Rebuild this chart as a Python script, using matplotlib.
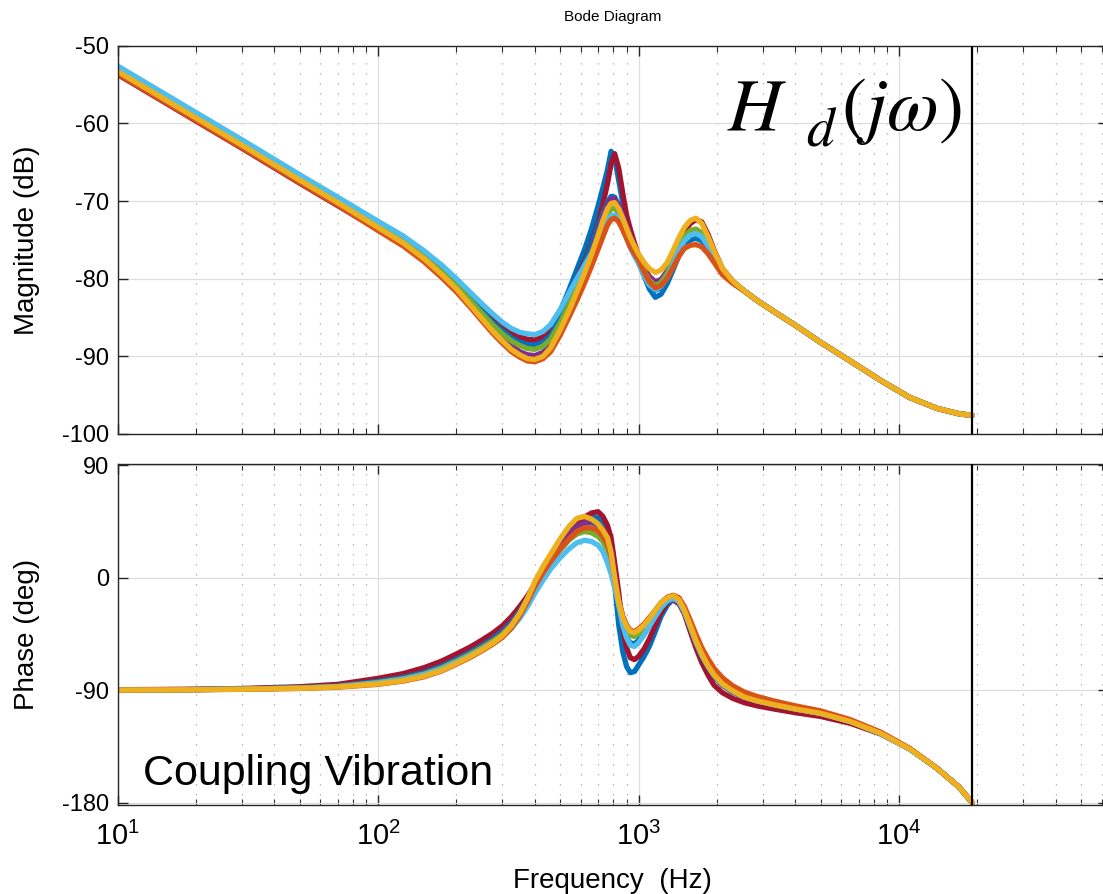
import math
import matplotlib
matplotlib.use("Agg")
import matplotlib.pyplot as plt
from matplotlib.ticker import LogLocator, NullLocator, FixedLocator, FuncFormatter

plt.rcParams['font.family'] = ['Liberation Sans', 'DejaVu Sans']
plt.rcParams['axes.unicode_minus'] = False

# ---------------- data ----------------
freq_hz = [10, 20, 30, 50, 70, 100, 125, 150, 175, 200,
           225, 250, 275, 300, 325, 350, 375, 400, 430, 460,
           500, 540, 580, 620, 660, 700, 730, 760, 785, 810,
           840, 870, 900, 930, 965, 1000, 1050, 1100, 1160, 1220,
           1290, 1360, 1430, 1500, 1580, 1660, 1750, 1850, 1950, 2100,
           2300, 2550, 2850, 3300, 4000, 5000, 6500, 8500, 11000, 14000,
           17000, 19100]

mag_blue = [-52.9, -58.9, -62.4, -66.9, -69.8, -73.0, -74.9, -76.9, -78.7, -80.5,
            -82.3, -83.9, -85.3, -86.4, -87.3, -87.9, -88.3, -88.4, -87.9, -86.6,
            -84.2, -81.5, -78.8, -76.3, -73.6, -70.6, -68.3, -66.0, -63.6, -64.4,
            -67.4, -70.2, -72.6, -74.2, -75.9, -77.4, -79.6, -81.3, -82.4, -82.0,
            -80.6, -78.8, -77.0, -75.7, -75.0, -74.8, -75.1, -76.2, -77.6, -79.3,
            -80.5, -81.6, -82.8, -84.2, -86.0, -88.2, -90.6, -93.1, -95.3, -96.7,
            -97.4, -97.6]
mag_darkred = [-53.7, -59.7, -63.2, -67.7, -70.6, -73.7, -75.6, -77.5, -79.3, -81.0,
               -82.6, -84.0, -85.3, -86.3, -87.0, -87.5, -87.8, -87.9, -87.5, -86.6,
               -84.5, -82.3, -80.0, -77.8, -75.4, -72.8, -70.4, -67.8, -65.2, -63.9,
               -65.8, -69.0, -71.8, -73.6, -75.4, -77.0, -78.8, -80.0, -80.7, -80.4,
               -79.3, -77.5, -75.6, -74.0, -72.9, -72.4, -72.7, -74.3, -76.3, -78.7,
               -80.3, -81.6, -82.8, -84.2, -86.0, -88.2, -90.6, -93.1, -95.3, -96.7,
               -97.4, -97.6]
mag_blue2 = [-53.0, -59.0, -62.5, -67.0, -69.9, -73.1, -75.1, -77.0, -78.9, -80.7,
             -82.5, -84.1, -85.6, -86.7, -87.6, -88.2, -88.5, -88.6, -88.2, -87.3,
             -85.2, -82.9, -80.5, -78.1, -75.7, -73.2, -71.6, -70.2, -69.4, -69.5,
             -70.6, -72.1, -73.5, -74.9, -76.4, -77.9, -79.6, -80.9, -81.5, -81.1,
             -79.9, -78.3, -76.6, -75.4, -74.7, -74.5, -74.9, -76.0, -77.5, -79.2,
             -80.5, -81.6, -82.8, -84.2, -86.0, -88.2, -90.6, -93.1, -95.3, -96.7,
             -97.4, -97.6]
mag_purple = [-53.2, -59.2, -62.7, -67.2, -70.1, -73.3, -75.3, -77.3, -79.2, -81.1,
              -83.0, -84.7, -86.3, -87.6, -88.6, -89.4, -89.8, -89.9, -89.5, -88.5,
              -86.3, -83.9, -81.4, -79.0, -76.6, -74.0, -72.0, -70.5, -69.7, -69.7,
              -70.6, -71.9, -73.3, -74.5, -75.9, -77.3, -78.6, -79.7, -80.4, -80.1,
              -79.0, -77.4, -75.8, -74.6, -73.9, -73.8, -74.3, -75.6, -77.1, -79.0,
              -80.4, -81.6, -82.8, -84.2, -86.0, -88.2, -90.6, -93.1, -95.3, -96.7,
              -97.4, -97.6]
mag_green = [-53.2, -59.2, -62.7, -67.2, -70.1, -73.2, -75.2, -77.2, -79.1, -80.9,
             -82.7, -84.4, -85.9, -87.1, -88.0, -88.6, -89.0, -89.1, -88.7, -87.8,
             -85.7, -83.4, -81.1, -78.9, -76.8, -74.9, -73.3, -71.8, -71.0, -70.9,
             -71.6, -72.8, -74.0, -75.2, -76.4, -77.6, -79.0, -80.2, -80.9, -80.5,
             -79.3, -77.6, -75.9, -74.6, -73.8, -73.6, -74.1, -75.5, -77.0, -79.0,
             -80.4, -81.6, -82.8, -84.2, -86.0, -88.2, -90.6, -93.1, -95.3, -96.7,
             -97.4, -97.6]
mag_lightblue = [-52.6, -58.6, -62.1, -66.6, -69.5, -72.6, -74.5, -76.4, -78.2, -80.0,
                 -81.7, -83.2, -84.5, -85.6, -86.4, -86.9, -87.1, -87.2, -86.8, -85.9,
                 -84.0, -81.9, -80.0, -78.3, -76.8, -75.3, -74.0, -72.6, -71.9, -71.8,
                 -72.5, -73.6, -74.8, -76.0, -77.1, -78.0, -79.6, -80.8, -81.4, -81.0,
                 -79.8, -78.1, -76.4, -75.1, -74.4, -74.2, -74.6, -75.8, -77.2, -79.1,
                 -80.4, -81.6, -82.8, -84.2, -86.0, -88.2, -90.6, -93.1, -95.3, -96.7,
                 -97.4, -97.6]
mag_orange = [-53.6, -59.6, -63.1, -67.6, -70.5, -73.8, -75.8, -77.8, -79.8, -81.7,
              -83.6, -85.4, -87.0, -88.3, -89.4, -90.1, -90.6, -90.7, -90.3, -89.4,
              -87.3, -85.0, -82.8, -80.6, -78.4, -76.2, -74.6, -73.1, -72.4, -72.2,
              -72.7, -73.7, -74.8, -75.9, -76.8, -77.6, -79.1, -80.4, -81.2, -80.9,
              -79.9, -78.5, -77.1, -76.1, -75.7, -75.6, -75.9, -76.8, -77.9, -79.5,
              -80.6, -81.6, -82.8, -84.2, -86.0, -88.2, -90.6, -93.1, -95.3, -96.7,
              -97.4, -97.6]
mag_yellow = [-53.3, -59.3, -62.8, -67.3, -70.2, -73.4, -75.4, -77.4, -79.4, -81.3,
              -83.3, -85.1, -86.7, -88.0, -89.1, -89.8, -90.3, -90.4, -90.0, -88.9,
              -86.6, -84.2, -81.7, -79.3, -76.9, -74.4, -72.5, -71.0, -70.3, -70.2,
              -71.0, -72.2, -73.5, -74.7, -75.8, -76.8, -77.9, -78.7, -79.2, -78.9,
              -77.9, -76.3, -74.7, -73.4, -72.5, -72.2, -72.9, -74.6, -76.4, -78.7,
              -80.3, -81.6, -82.8, -84.2, -86.0, -88.2, -90.6, -93.1, -95.3, -96.7,
              -97.4, -97.6]

phase_blue = [-89.7, -89.4, -88.9, -87.8, -86.3, -82.3, -78.9, -74.7, -69.5, -63.8,
              -58.3, -52.8, -47.2, -41.2, -34.0, -25.3, -15.8, -5.5, 7.0, 17.0,
              28.0, 37.0, 43.0, 47.0, 49.5, 47.5, 42.0, 33.0, 20.0, -5.0,
              -38.0, -59.0, -71.0, -76.0, -75.0, -70.0, -63.0, -55.0, -43.0, -31.0,
              -22.0, -17.0, -19.0, -27.0, -40.0, -52.0, -63.0, -72.0, -79.0, -86.0,
              -91.5, -95.5, -98.5, -101.5, -105.0, -108.5, -115.0, -124.5, -137.0, -152.5,
              -167.5, -180.0]
phase_darkred = [-89.6, -89.2, -88.6, -87.2, -85.3, -80.5, -76.7, -72.0, -66.8, -61.0,
                 -55.6, -50.0, -44.5, -38.5, -31.2, -23.0, -14.5, -5.0, 7.0, 17.0,
                 28.0, 36.5, 43.5, 48.5, 51.8, 52.8, 49.0, 42.0, 32.0, 12.0,
                 -12.0, -42.0, -56.0, -64.0, -65.5, -63.0, -57.0, -49.0, -38.0, -28.0,
                 -20.0, -16.0, -20.0, -29.0, -43.0, -56.0, -68.0, -78.0, -86.0, -92.0,
                 -96.5, -100.0, -102.5, -105.0, -108.0, -111.0, -116.5, -125.0, -137.0, -152.5,
                 -167.5, -180.0]
phase_blue2 = [-89.8, -89.5, -89.0, -88.0, -86.6, -83.0, -79.8, -75.8, -70.8, -65.2,
               -59.7, -54.3, -48.8, -42.8, -35.5, -26.5, -16.5, -5.0, 8.0, 17.0,
               27.0, 35.0, 40.5, 43.5, 44.5, 42.0, 37.0, 29.0, 17.0, -3.0,
               -25.0, -40.0, -48.0, -52.0, -53.0, -50.0, -44.0, -38.0, -31.0, -24.0,
               -18.5, -16.5, -18.5, -26.5, -39.5, -51.5, -62.5, -71.5, -78.5, -85.5,
               -91.0, -95.5, -98.5, -101.5, -105.0, -108.5, -115.0, -124.5, -137.0, -152.5,
               -167.5, -180.0]
phase_purple = [-89.8, -89.5, -89.1, -88.2, -87.0, -83.8, -80.7, -76.8, -71.9, -66.2,
                -60.8, -55.5, -50.2, -44.5, -37.0, -27.5, -16.5, -5.0, 7.0, 16.0,
                27.0, 35.0, 41.0, 44.0, 45.0, 43.0, 39.0, 32.0, 22.0, 3.0,
                -18.0, -31.0, -38.0, -43.0, -44.0, -42.0, -39.0, -34.0, -28.0, -22.0,
                -18.5, -18.0, -21.0, -28.0, -40.0, -52.0, -62.5, -71.5, -78.5, -85.5,
                -91.0, -95.5, -98.5, -101.5, -105.0, -108.5, -115.0, -124.5, -137.0, -152.5,
                -167.5, -180.0]
phase_green = [-89.8, -89.5, -89.1, -88.2, -87.0, -83.8, -80.8, -77.0, -72.2, -66.6,
               -61.3, -56.0, -50.8, -45.2, -38.0, -28.8, -18.0, -6.0, 4.0, 12.0,
               22.0, 30.0, 35.0, 37.0, 36.0, 33.0, 29.0, 22.0, 12.0, -4.0,
               -22.0, -34.0, -41.0, -46.0, -47.0, -45.0, -41.0, -35.0, -29.0, -22.0,
               -17.5, -16.0, -19.0, -27.0, -39.5, -51.5, -62.0, -71.0, -78.0, -85.0,
               -90.5, -95.5, -98.5, -101.5, -105.0, -108.5, -115.0, -124.5, -137.0, -152.5,
               -167.5, -180.0]
phase_lightblue = [-89.8, -89.5, -89.1, -88.3, -87.2, -84.2, -81.3, -77.6, -73.0, -67.5,
                   -62.3, -57.3, -52.3, -47.0, -40.5, -32.5, -23.0, -12.5, -2.0, 7.0,
                   16.0, 23.0, 28.0, 30.0, 29.0, 26.0, 21.0, 12.0, 3.0, -8.0,
                   -22.0, -38.0, -48.0, -54.0, -55.0, -52.0, -46.0, -39.0, -31.0, -24.0,
                   -18.5, -16.5, -19.0, -27.0, -39.0, -51.0, -62.0, -71.0, -78.0, -85.0,
                   -90.5, -95.5, -98.5, -101.5, -105.0, -108.5, -115.0, -124.5, -137.0, -152.5,
                   -167.5, -180.0]
phase_orange = [-89.9, -89.6, -89.3, -88.6, -87.6, -85.3, -82.7, -79.3, -74.7, -69.2,
                -63.9, -58.6, -53.3, -47.8, -40.3, -30.5, -19.0, -7.0, 4.0, 13.0,
                23.0, 31.0, 37.0, 40.0, 40.0, 37.5, 33.0, 27.0, 17.0, 0.0,
                -18.0, -31.0, -38.0, -42.0, -43.0, -41.0, -37.0, -32.0, -26.0, -20.0,
                -15.5, -14.0, -16.0, -23.0, -34.0, -45.0, -56.0, -65.0, -72.5, -80.0,
                -86.5, -91.5, -95.0, -98.5, -102.5, -106.5, -113.5, -123.5, -136.5, -152.5,
                -167.5, -180.0]
phase_yellow = [-89.9, -89.6, -89.2, -88.5, -87.4, -85.0, -82.3, -78.8, -74.2, -68.6,
                -63.2, -57.8, -52.4, -46.5, -38.5, -28.5, -16.5, -3.0, 9.0, 19.0,
                31.0, 41.0, 47.5, 49.0, 47.0, 43.0, 38.0, 32.0, 20.0, 0.0,
                -20.0, -32.0, -39.0, -43.0, -44.0, -42.0, -38.0, -33.0, -26.0, -20.0,
                -16.0, -14.5, -17.5, -26.0, -38.0, -50.0, -61.0, -70.5, -77.5, -85.0,
                -90.5, -95.5, -98.5, -101.5, -105.0, -108.5, -115.0, -124.5, -137.0, -152.5,
                -167.5, -180.0]

nyquist_hz = 19100
mag_ticks = [-100, -90, -80, -70, -60, -50]
phase_ticks = [-180, -90, 0, 90]

series = [
    (mag_blue, phase_blue, '#0072BD'),
    (mag_darkred, phase_darkred, '#A2142F'),
    (mag_blue2, phase_blue2, '#0072BD'),
    (mag_purple, phase_purple, '#7E2F8E'),
    (mag_green, phase_green, '#77AC30'),
    (mag_lightblue, phase_lightblue, '#4DBEEE'),
    (mag_orange, phase_orange, '#D95319'),
    (mag_yellow, phase_yellow, '#EDB120'),
]

# ---------------- figure ----------------
fig = plt.figure(figsize=(11.03, 8.94), dpi=100)
W, H = 1103.0, 894.0
left = 117.5 / W
width = 990.0 / W
ax1 = fig.add_axes([left, (H - 434.0) / H, width, (434.0 - 45.7) / H])
ax2 = fig.add_axes([left, (H - 805.2) / H, width, (805.2 - 464.0) / H])

xmax = 10 ** (1 + 990.0 / 260.5)


def decade_label(v, pos):
    return r'$\mathregular{10^{%d}}$' % int(round(math.log10(v)))


for ax in (ax1, ax2):
    ax.set_xscale('log')
    ax.set_xlim(10, xmax)
    ax.xaxis.set_major_locator(LogLocator(base=10, numticks=12))
    ax.xaxis.set_minor_locator(LogLocator(base=10, subs=range(2, 10), numticks=12))
    ax.xaxis.set_major_formatter(FuncFormatter(decade_label))
    ax.yaxis.set_minor_locator(NullLocator())
    ax.grid(True, which='major', color='#dedede', lw=0.9, ls='-')
    ax.grid(True, which='minor', axis='x', color='#a8a8a8', lw=0.9, ls=(0, (1, 7)))
    ax.set_axisbelow(True)
    ax.tick_params(which='both', direction='in', top=True, right=True,
                   color='#262626', labelsize=17, pad=6)
    ax.tick_params(which='major', length=7, width=1.0)
    ax.tick_params(which='minor', length=4, width=0.8)
    for s in ax.spines.values():
        s.set_color('#262626')
        s.set_linewidth(1.0)
    ax.axvline(nyquist_hz, color='black', lw=1.6, zorder=5)

for mag, ph, c in series:
    ax1.plot(freq_hz, mag, color=c, lw=3.8, solid_capstyle='round', solid_joinstyle='round')
    ax2.plot(freq_hz, ph, color=c, lw=3.8, solid_capstyle='round', solid_joinstyle='round')

ax1.set_ylim(-100, -50)
ax1.yaxis.set_major_locator(FixedLocator(mag_ticks))
ax1.tick_params(labelbottom=False)
ax1.set_ylabel('Magnitude (dB)', fontsize=20)
ax1.yaxis.set_label_coords(-0.078, 0.5)
ax1.set_title('Bode Diagram', fontsize=11, pad=18)

ax2.set_ylim(-182, 91)
ax2.yaxis.set_major_locator(FixedLocator(phase_ticks))
ax2.set_ylabel('Phase (deg)', fontsize=20)
ax2.yaxis.set_label_coords(-0.078, 0.5)
ax2.tick_params(axis='x', which='major', labelsize=21, pad=12)
ax2.set_xlabel('Frequency  (Hz)', fontsize=20, labelpad=12)

# annotation  H_d(jw)
fig.text(727 / W, (H - 130) / H, r'$H$', math_fontfamily='stix',
         fontsize=54, ha='left', va='baseline')
fig.text(806 / W, (H - 146) / H, r'$d$', math_fontfamily='stix',
         fontsize=40, ha='left', va='baseline')
fig.text(962 / W, (H - 130) / H, r'$(j\omega)$', math_fontfamily='stix',
         fontsize=54, ha='right', va='baseline')
fig.text(143 / W, (H - 785) / H, 'Coupling Vibration', fontsize=31,
         ha='left', va='baseline')

fig.savefig('out.png', dpi=100)
